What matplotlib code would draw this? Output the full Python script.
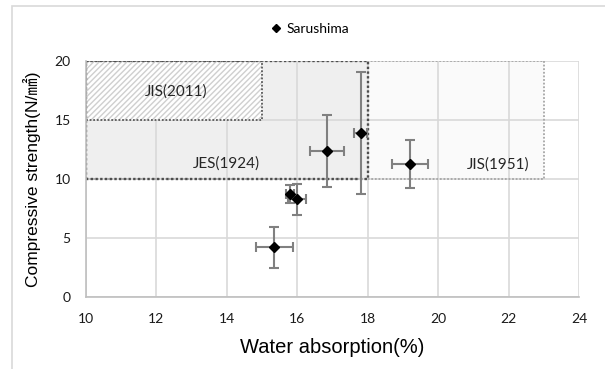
import matplotlib
matplotlib.use("Agg")
import matplotlib.pyplot as plt
from matplotlib.patches import Rectangle

# water absorption (%) vs compressive strength (N/mm2)
absorption = [15.35, 15.8, 16.0, 16.85, 17.8, 19.2]
strength = [4.25, 8.75, 8.3, 12.4, 13.9, 11.25]
absorption_err = [0.53, 0.12, 0.25, 0.48, 0.19, 0.52]
strength_err = [1.73, 0.75, 1.3, 3.05, 5.15, 2.03]

# standard regions: (x0, x1, y0, y1)
jis1951 = (10, 23, 10, 20)
jes1924 = (10, 18, 10, 20)
jis2011 = (10, 15, 15, 20)
region_labels = ["JIS(2011)", "JES(1924)", "JIS(1951)"]
label_pos = [(12.55, 17.4), (14.0, 11.3), (21.7, 11.2)]

xticks = [10, 12, 14, 16, 18, 20, 22, 24]
yticks = [0, 5, 10, 15, 20]

tick_font = "Lato"
label_font = ["Liberation Sans", "Noto Sans CJK JP"]

fig = plt.figure(figsize=(6.05, 3.69), dpi=100)
ax = fig.add_axes([86 / 605, 1 - 297.3 / 369, (579 - 86) / 605, (297.3 - 61) / 369])


def box(r, **kw):
    return Rectangle((r[0], r[2]), r[1] - r[0], r[3] - r[2], **kw)


dots = (0, (1, 1))
# fills
ax.add_patch(box(jis1951, facecolor="#fafafa", edgecolor="none", zorder=0.2))
ax.add_patch(box(jes1924, facecolor="#efefef", edgecolor="none", zorder=0.3))
ax.add_patch(box(jis2011, facecolor="white", edgecolor="#cfcfcf", hatch="//////",
                 linewidth=0, zorder=0.8))
# dotted borders
ax.add_patch(box(jis1951, facecolor="none", edgecolor="#a6a6a6", linestyle=dots,
                 linewidth=1.3, zorder=1))
ax.add_patch(box(jes1924, facecolor="none", edgecolor="#4d4d4d", linestyle=dots,
                 linewidth=1.7, zorder=1.1))
ax.add_patch(box(jis2011, facecolor="none", edgecolor="#595959", linestyle=dots,
                 linewidth=1.3, zorder=1.2))

for txt, (tx, ty) in zip(region_labels, label_pos):
    ax.text(tx, ty, txt, ha="center", va="center", fontsize=11,
            family=tick_font, color="#262626", zorder=2)

ax.errorbar(absorption, strength, xerr=absorption_err, yerr=strength_err,
            fmt="D", color="black", markersize=5.5, ecolor="#808080",
            elinewidth=1.5, capsize=3.5, capthick=1.5, zorder=3,
            label="Sarushima")

ax.set_xlim(10, 24)
ax.set_ylim(0, 20)
ax.set_xticks(xticks)
ax.set_yticks(yticks)
ax.set_axisbelow(True)
ax.grid(True, color="#d9d9d9", linewidth=1.2, zorder=0.5)
ax.tick_params(length=0, pad=11, labelsize=10, labelcolor="#1a1a1a")
for lab in ax.get_xticklabels() + ax.get_yticklabels():
    lab.set_family(tick_font)
for s in ["top", "right"]:
    ax.spines[s].set_visible(False)
for s in ["left", "bottom"]:
    ax.spines[s].set_color("#bfbfbf")
    ax.spines[s].set_linewidth(1.2)

ax.set_xlabel("Water absorption(%)", fontsize=14.5, family=label_font, labelpad=10)
ax.set_ylabel("Compressive strength(N/㎟)", fontsize=12.5, family=label_font, labelpad=10)

handles, labels = ax.get_legend_handles_labels()
fig.legend([handles[0][0]], labels, loc="center", bbox_to_anchor=(0.512, 1 - 29 / 369),
           frameon=False, markerscale=0.75, handlelength=0.8, handletextpad=0.4,
           prop={"family": tick_font, "size": 10})

# outer chart border
fig.add_artist(Rectangle((12 / 605, -0.1), 1.0, 1.1 - 6 / 369, transform=fig.transFigure,
                         facecolor="none", edgecolor="#d9d9d9", linewidth=1.2))

fig.savefig("out.png", dpi=100)
